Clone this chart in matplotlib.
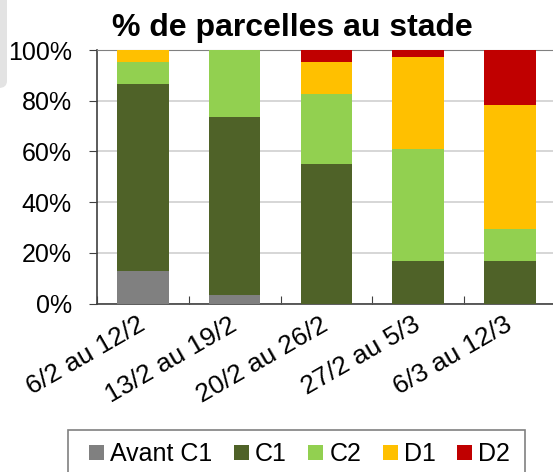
import matplotlib
matplotlib.use("Agg")
import matplotlib.pyplot as plt
from matplotlib.patches import FancyBboxPatch, Rectangle
from matplotlib.transforms import ScaledTranslation
import numpy as np

plt.rcParams['font.family'] = ['Liberation Sans', 'DejaVu Sans']

categories = ["6/2 au 12/2", "13/2 au 19/2", "20/2 au 26/2", "27/2 au 5/3", "6/3 au 12/3"]
series_names = ["Avant C1", "C1", "C2", "D1", "D2"]
avant_c1 = [13, 3.5, 0, 0, 0]
c1 = [73.7, 70.2, 55, 16.7, 16.7]
c2 = [8.7, 26.3, 27.7, 44.1, 12.8]
d1 = [4.6, 0, 12.7, 36.6, 49]
d2 = [0, 0, 4.6, 2.6, 21.5]
colors = ["#808080", "#4f6228", "#92d050", "#ffc000", "#c00000"]
yticks = [0, 20, 40, 60, 80, 100]
ytick_labels = ["0%", "20%", "40%", "60%", "80%", "100%"]

W, H = 553, 472
fig = plt.figure(figsize=(W / 100, H / 100), dpi=100)
ax = fig.add_axes([97 / W, 1 - 303.7 / H, (555.8 - 97) / W, (303.7 - 50) / H])

x = np.arange(len(categories))
bottom = np.zeros(len(categories))
handles = []
for name, vals, col in zip(series_names, [avant_c1, c1, c2, d1, d2], colors):
    b = ax.bar(x, vals, width=0.56, bottom=bottom, color=col, label=name,
               edgecolor='none', zorder=3)
    handles.append(b)
    bottom += np.array(vals)

ax.set_xlim(-0.5, len(categories) - 0.5)
ax.set_ylim(0, 100)
ax.set_yticks(yticks)
ax.set_yticklabels(ytick_labels, fontsize=18)
ax.yaxis.grid(True, color='#d0d0d0', linewidth=1.2, zorder=0)
ax.set_axisbelow(True)

ax.set_xticks(np.arange(len(categories) + 1) - 0.5, minor=False)
ax.set_xticklabels([])
ax.set_xticks(x, minor=True)
ax.set_xticklabels(categories, minor=True, fontsize=19, rotation=30,
                   ha='right', va='center', rotation_mode='anchor')
shift = ScaledTranslation(5 / 100, 0, fig.dpi_scale_trans)
for lab in ax.get_xticklabels(minor=True):
    lab.set_transform(lab.get_transform() + shift)
ax.tick_params(axis='x', which='minor', length=0, pad=14)
ax.tick_params(axis='x', which='major', length=6, direction='in', color='#404040')
ax.tick_params(axis='y', length=6, direction='out', color='#404040', pad=12)

for s in ['left', 'bottom']:
    ax.spines[s].set_color('#404040')
    ax.spines[s].set_linewidth(1.2)
ax.spines['top'].set_color('#808080')
ax.spines['right'].set_visible(False)

fig.text(292 / W, 1 - 36 / H, "% de parcelles au stade", fontsize=23,
         fontweight='bold', ha='center', va='baseline')

# legend frame drawn manually (extends past the bottom edge)
fig.patches.append(Rectangle((68 / W, -0.05), (525 - 68) / W, 0.05 + (H - 430) / H,
                             transform=fig.transFigure, facecolor='white',
                             edgecolor='#808080', linewidth=1.2, zorder=1))
leg = fig.legend(handles=handles, labels=series_names, loc='center left',
                 bbox_to_anchor=(89 / W, 1 - 454 / H), ncol=5, fontsize=18,
                 frameon=False, handlelength=0.6, handleheight=0.55,
                 handletextpad=0.25, columnspacing=0.85, borderpad=0.0,
                 borderaxespad=0)
leg.set_zorder(5)

# light grey decoration at top-left
fig.patches.append(FancyBboxPatch((-20 / W, 1 - 88 / H), 27 / W, 88 / H + 0.05,
                                  boxstyle="round,pad=0,rounding_size=0.015",
                                  transform=fig.transFigure, facecolor='#e3e3e3',
                                  edgecolor='none', zorder=0))

fig.savefig("out.png", dpi=100)
